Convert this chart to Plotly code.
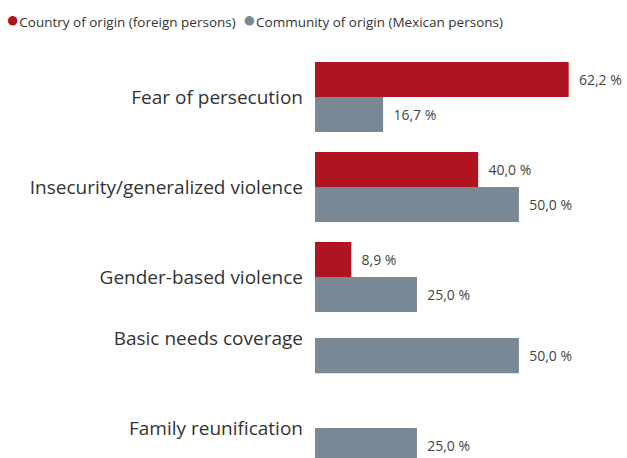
import plotly.graph_objects as go

# ---- data ----
categories = [
    "Fear of persecution",
    "Insecurity/generalized violence",
    "Gender-based violence",
    "Basic needs coverage",
    "Family reunification",
]
country_origin = [62.2, 40.0, 8.9, None, None]      # foreign persons (%)
community_origin = [16.7, 50.0, 25.0, 50.0, 25.0]   # Mexican persons (%)
series_names = [
    "Country of origin (foreign persons)",
    "Community of origin (Mexican persons)",
]

# ---- layout / style ----
row_pos = [0, 1, 2, 2.678, 3.678]   # row centres as spaced in the reference
RED = "#AF1420"
GRAY = "#788894"
BAR_W = 0.39
FONT = "Open Sans"

fig = go.Figure()
for vals, color, off, name in [
    (country_origin, RED, -BAR_W, series_names[0]),
    (community_origin, GRAY, 0, series_names[1]),
]:
    fig.add_trace(go.Bar(
        x=vals, y=row_pos, orientation="h", name=name,
        width=BAR_W, offset=off,
        marker=dict(color=color, line=dict(width=0)),
        texttemplate="\u00a0\u00a0%{x:.1f} %",
        textposition="outside", constraintext="none", cliponaxis=False,
        textfont=dict(family=FONT, size=14, color="#444444"),
        showlegend=False, hoverinfo="skip",
    ))

legend_html = (
    f"<span style='color:{RED};font-size:22px'>●</span>{series_names[0]}\u00a0\u00a0"
    f"<span style='color:{GRAY};font-size:22px'>●</span>{series_names[1]}"
)

fig.update_layout(
    width=627, height=458,
    margin=dict(l=315, r=0, t=45, b=0),
    paper_bgcolor="white", plot_bgcolor="white",
    barmode="overlay",
    separators=", ",
    xaxis=dict(range=[0, 76.5], visible=False),
    yaxis=dict(
        range=[4.011, -0.578], tickvals=row_pos, ticktext=categories,
        showgrid=False, zeroline=False, showline=False,
        ticks="", ticklabelstandoff=11,
        tickfont=dict(family=FONT, size=19, color="#333333"),
    ),
    annotations=[dict(
        text=legend_html, xref="paper", yref="paper",
        x=-311 / 312, y=1 + 27 / 413, xanchor="left", yanchor="middle",
        showarrow=False, font=dict(family=FONT, size=13.5, color="#333333"),
    )],
)

fig.write_html("out.html")
